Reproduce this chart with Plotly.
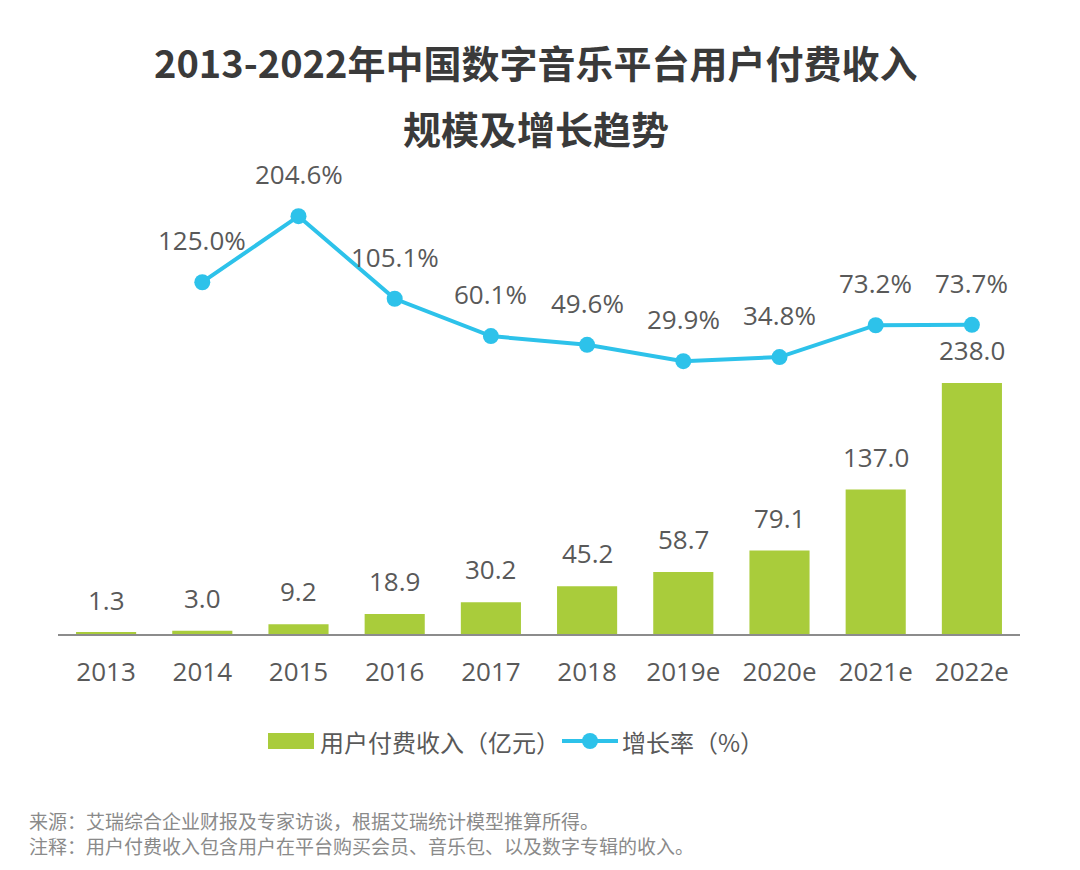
import plotly.graph_objects as go

years = ["2013", "2014", "2015", "2016", "2017", "2018", "2019e", "2020e", "2021e", "2022e"]
revenue = [1.3, 3.0, 9.2, 18.9, 30.2, 45.2, 58.7, 79.1, 137.0, 238.0]
growth_years = ["2014", "2015", "2016", "2017", "2018", "2019e", "2020e", "2021e", "2022e"]
growth = [125.0, 204.6, 105.1, 60.1, 49.6, 29.9, 34.8, 73.2, 73.7]

title_line1 = "2013-2022年中国数字音乐平台用户付费收入"
title_line2 = "规模及增长趋势"
bar_name = "用户付费收入（亿元）"
line_name = "增长率（%）"
note1 = "来源：艾瑞综合企业财报及专家访谈，根据艾瑞统计模型推算所得。"
note2 = "注释：用户付费收入包含用户在平台购买会员、音乐包、以及数字专辑的收入。"

GREEN = "#a9cc3b"
CYAN = "#2dc2ea"
TXT = "#595959"
FONT = "Open Sans, Noto Sans CJK SC, sans-serif"
CJK = "Noto Sans CJK SC, sans-serif"

# figure geometry (page body has an 8px margin)
W, H = 1064, 854
L, R, T, B = 50, 52, 162, 228
PW, PH = W - L - R, H - T - B


def px(x):  # screenshot x pixel -> paper x
    return (x - 8 - L) / PW


def py(y):  # screenshot y pixel -> paper y
    return (8 + T + PH - y) / PH


fig = go.Figure()
fig.add_trace(go.Bar(x=years, y=revenue, name=bar_name, marker_color=GREEN,
                     marker_line_width=0, yaxis="y", showlegend=False))
fig.add_trace(go.Scatter(x=growth_years, y=growth, name=line_name, mode="lines+markers",
                         line=dict(color=CYAN, width=4), marker=dict(size=16, color=CYAN),
                         yaxis="y2", showlegend=False))

annotations = []
for i, v in enumerate(revenue):
    annotations.append(dict(x=i, y=v, xref="x", yref="y", text=f"{v:.1f}", showarrow=False,
                            yshift=33, font=dict(size=26, color=TXT, family=FONT)))
for x, v in zip(growth_years, growth):
    i = years.index(x)
    annotations.append(dict(x=i, y=v, xref="x", yref="y2", text=f"{v:.1f}%", showarrow=False,
                            yshift=42, font=dict(size=26, color=TXT, family=FONT)))

annotations += [
    dict(x=px(535), y=py(62), xref="paper", yref="paper", text=f"<b>{title_line1}</b>", showarrow=False,
         font=dict(size=38, color="#3a3a3a", family=CJK), xanchor="center", yanchor="middle"),
    dict(x=px(536), y=py(127), xref="paper", yref="paper", text=f"<b>{title_line2}</b>", showarrow=False,
         font=dict(size=38, color="#3a3a3a", family=CJK), xanchor="center", yanchor="middle"),
    dict(x=px(27), y=py(861), xref="paper", yref="paper", text=note1 + "<br>" + note2, showarrow=False,
         font=dict(size=19, color="#8a8a8a", family=CJK), xanchor="left", yanchor="bottom",
         align="left"),
    # custom legend texts
    dict(x=px(318), y=py(741), xref="paper", yref="paper", text=bar_name, showarrow=False,
         font=dict(size=24, color=TXT, family=CJK), xanchor="left", yanchor="middle"),
    dict(x=px(620), y=py(741), xref="paper", yref="paper", text=line_name, showarrow=False,
         font=dict(size=24, color=TXT, family=CJK), xanchor="left", yanchor="middle"),
]

shapes = [
    dict(type="rect", xref="paper", yref="paper", x0=px(268), x1=px(314), y0=py(749), y1=py(733),
         fillcolor=GREEN, line_width=0),
    dict(type="line", xref="paper", yref="paper", x0=px(562), x1=px(618), y0=py(741), y1=py(741),
         line=dict(color=CYAN, width=4)),
    dict(type="circle", xref="paper", yref="paper", x0=px(582), x1=px(598), y0=py(749), y1=py(733),
         fillcolor=CYAN, line_width=0),
]

fig.update_layout(
    width=W, height=H,
    margin=dict(l=L, r=R, t=T, b=B),
    paper_bgcolor="white", plot_bgcolor="white",
    bargap=0.375,
    showlegend=False,
    xaxis=dict(type="category", range=[-0.5, 9.5], showgrid=False, showline=True,
               linecolor="#8c8c8c", linewidth=2, ticks="outside", ticklen=14,
               tickcolor="rgba(0,0,0,0)", tickfont=dict(size=26, color=TXT, family=FONT)),
    yaxis=dict(range=[0, 440], showgrid=False, showticklabels=False, zeroline=False, showline=False),
    yaxis2=dict(range=[-298.8, 260.2], overlaying="y", side="right", showgrid=False,
                showticklabels=False, zeroline=False, showline=False),
    annotations=annotations,
    shapes=shapes,
)

fig.write_html("out.html")
